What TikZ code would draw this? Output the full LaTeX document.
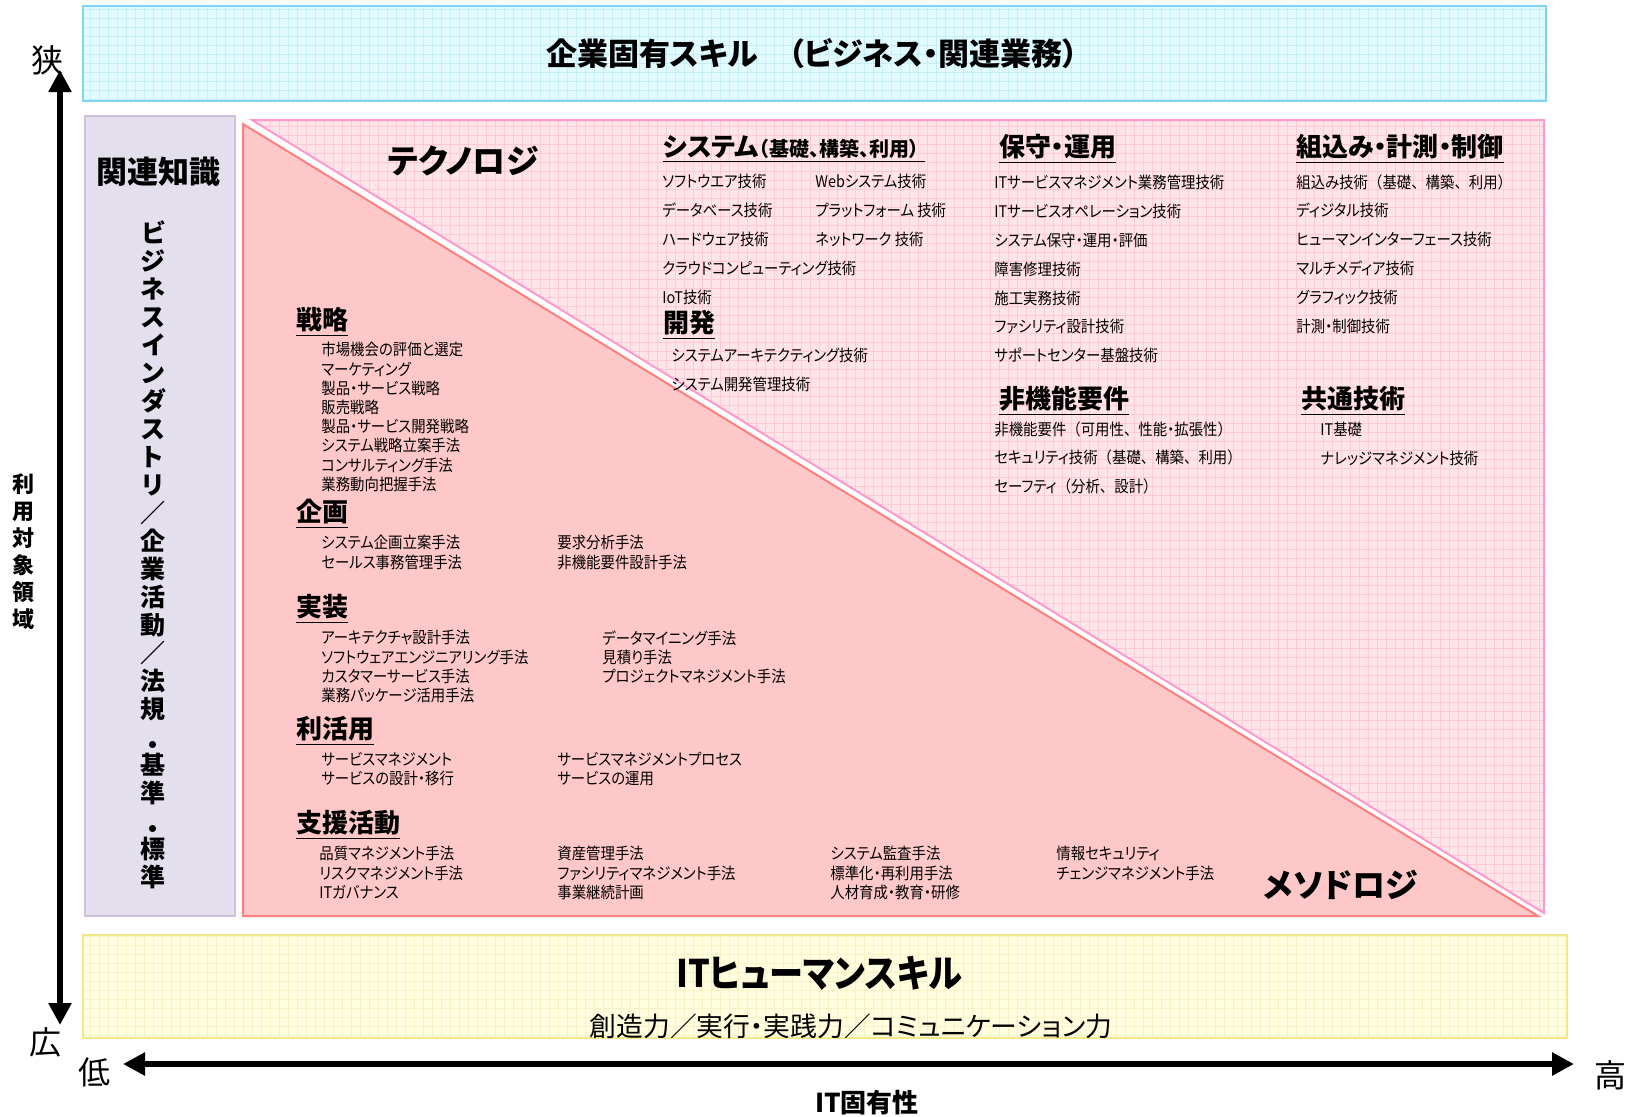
\documentclass[tikz,border=0pt]{standalone}
\usepackage{fontspec}
\setmainfont{Noto Sans CJK JP}[RawFeature=+palt]
\newfontfamily\narrowjp{Noto Sans CJK JP}[RawFeature=+palt,FakeStretch=0.9]
\newfontfamily\narrowfw{Noto Sans CJK JP}[FakeStretch=0.9]
\usepackage{tikz}
\usetikzlibrary{arrows.meta,positioning}
\definecolor{skyfill}{HTML}{E1FBFF}
\definecolor{skyline}{HTML}{7FD2F8}
\definecolor{skygrid}{HTML}{C6EEF6}
\definecolor{lavfill}{HTML}{E4DFEC}
\definecolor{lavline}{HTML}{CCC0DA}
\definecolor{techfill}{HTML}{FFE4E9}
\definecolor{techline}{HTML}{FF99CC}
\definecolor{techgrid}{HTML}{FFCAD3}
\definecolor{methfill}{HTML}{FFC8C8}
\definecolor{methline}{HTML}{FF7F7F}
\definecolor{humfill}{HTML}{FFFFE0}
\definecolor{humline}{HTML}{F5E68C}
\definecolor{humgrid}{HTML}{F6F2C6}
\tikzset{
    %Define standard arrow tip
    >={Triangle[length=11pt,width=11pt]},
    %Define style for item lists
    items/.style={
           anchor=north west,
           inner sep=0pt,
           align=left,
           font=\narrowjp\fontsize{8}{9.6}\selectfont},
    techitems/.style={
           items,
           font=\narrowjp\fontsize{8}{14.4}\selectfont},
    %Define style for underlined headings
    head/.style={
           anchor=west,
           inner sep=0pt,
           font=\bfseries\fontsize{13}{14}\selectfont},
    area/.style={
           inner sep=0pt,
           font=\bfseries\fontsize{16.5}{18}\selectfont},
    %Define style for vertical text
    tate/.style={
           inner sep=0pt,
           align=center,
           font=\bfseries\fontsize{12.5}{14}\selectfont},
    ends/.style={
           inner sep=0pt,
           font=\fontsize{16}{16}\selectfont},
    % Define arrow style
    axisarrow/.style={
           <->,
           line width=3pt}
}

\begin{document}
\begin{tikzpicture}[x=0.5pt,y=-0.5pt]
\useasboundingbox (0,0) rectangle (1632,1116);
% company specific skills
\fill[skyfill] (83,6) rectangle (1546,101);
\draw[skygrid,line width=0.25pt,step=4.5pt] (83,101) grid (1546,6);
\draw[skyline,line width=1pt] (83,6) rectangle (1546,101);
\node[area,font=\bfseries\fontsize{15.5}{18}\selectfont] (Co) at (812,54) {企業固有スキル　（ビジネス・関連業務）};
% related knowledge
\filldraw[fill=lavfill,draw=lavline,line width=1pt] (85,116) rectangle (235,916);
\node[area,font=\bfseries\fontsize{15.5}{18}\selectfont] (Rel) at (158,172) {関連知識};
\node[tate] (Biz) at (153,555) {ビ\\ジ\\ネ\\ス\\イ\\ン\\ダ\\ス\\ト\\リ\\／\\企\\業\\活\\動\\／\\法\\規\\[4pt]・\\[-4pt]基\\準\\[4pt]・\\[-4pt]標\\準};
% technology
\begin{scope}
\clip (252,120) -- (1544,120) -- (1544,913) -- cycle;
\fill[techfill] (252,120) rectangle (1544,913);
\draw[techgrid,line width=0.25pt,step=4.5pt] (252,913) grid (1544,120);
\end{scope}
\draw[techline,line width=1pt] (252,120) -- (1544,120) -- (1544,913) -- cycle;
% methodology
\filldraw[fill=methfill,draw=methline,line width=1pt] (243,124) -- (243,916) -- (1538,916) -- cycle;
% human skills
\fill[humfill] (83,935) rectangle (1567,1038);
\draw[humgrid,line width=0.25pt,step=4.5pt] (83,1038) grid (1567,935);
\draw[humline,line width=1pt] (83,935) rectangle (1567,1038);

\node[area] (T) at (463,161) {テクノロジ};
\node[head] (Sys) at (663,149) {\underline{システム{\fontsize{10}{11}\selectfont（基礎、構築、利用）}\ }};
\node[techitems] (SysA) at (662,174) {ソフトウエア技術\\データベース技術\\ハードウェア技術\\クラウドコンピューティング技術\\IoT技術};
\node[techitems] (SysB) at (815,174) {Webシステム技術\\プラットフォーム 技術\\ネットワーク 技術};
\node[head] (Dev) at (663,325) {\underline{開発}};
\node[techitems] (DevA) at (671,348) {システムアーキテクティング技術\\システム開発管理技術};
\node[head] (Ops) at (999,149) {\underline{保守・運用}};
\node[techitems] (OpsA) at (994,175) {ITサービスマネジメント業務管理技術\\ITサービスオペレーション技術\\システム保守・運用・評価\\障害修理技術\\施工実務技術\\ファシリティ設計技術\\サポートセンター基盤技術};
\node[head] (NF) at (999,401) {\underline{非機能要件}};
\node[techitems] (NFA) at (994,421) {非機能要件{\narrowfw （}可用性{\narrowfw 、}性能・拡張性{\narrowfw ）}\\セキュリティ技術{\narrowfw （}基礎{\narrowfw 、}構築{\narrowfw 、}利用{\narrowfw ）}\\セーフティ{\narrowfw （}分析{\narrowfw 、}設計{\narrowfw ）}};
\node[head] (Emb) at (1296,149) {\underline{組込み・計測・制御}};
\node[techitems] (EmbA) at (1296,174) {組込み技術{\narrowfw （}基礎{\narrowfw 、}構築{\narrowfw 、}利用{\narrowfw ）}\\ディジタル技術\\ヒューマンインターフェース技術\\マルチメディア技術\\グラフィック技術\\計測・制御技術};
\node[head] (Com) at (1301,401) {\underline{共通技術}};
\node[techitems] (ComA) at (1320,422) {IT基礎\\ナレッジマネジメント技術};

\node[area] (M) at (1341,885) {メソドロジ};
\node[head] (Str) at (296,322) {\underline{戦略}};
\node[items] (StrA) at (321,342) {市場機会の評価と選定\\マーケティング\\製品・サービス戦略\\販売戦略\\製品・サービス開発戦略\\システム戦略立案手法\\コンサルティング手法\\業務動向把握手法};
\node[head] (Pl) at (296,514) {\underline{企画}};
\node[items] (PlA) at (321,535) {システム企画立案手法\\セールス事務管理手法};
\node[items] (PlB) at (557,535) {要求分析手法\\非機能要件設計手法};
\node[head] (Imp) at (296,609) {\underline{実装}};
\node[items] (ImpA) at (321,630) {アーキテクチャ設計手法\\ソフトウェアエンジニアリング手法\\カスタマーサービス手法\\業務パッケージ活用手法};
\node[items] (ImpB) at (602,630) {データマイニング手法\\見積り手法\\プロジェクトマネジメント手法};
\node[head] (Use) at (296,731) {\underline{利活用}};
\node[items] (UseA) at (321,752) {サービスマネジメント\\サービスの設計・移行};
\node[items] (UseB) at (557,752) {サービスマネジメントプロセス\\サービスの運用};
\node[head] (Sup) at (296,825) {\underline{支援活動}};
\node[items] (SupA) at (319,846) {品質マネジメント手法\\リスクマネジメント手法\\ITガバナンス};
\node[items] (SupB) at (557,846) {資産管理手法\\ファシリティマネジメント手法\\事業継続計画};
\node[items] (SupC) at (830,846) {システム監査手法\\標準化・再利用手法\\人材育成・教育・研修};
\node[items] (SupD) at (1056,846) {情報セキュリティ\\チェンジマネジメント手法};

\node[area,font=\narrowjp\bfseries\fontsize{19}{20}\selectfont] (H) at (819,973) {ITヒューマンスキル};
\node[inner sep=0pt,font=\fontsize{13.4}{16}\selectfont] (HA) at (851,1026) {創造力／実行・実践力／コミュニケーション力};

% axes
\node[ends] (Nar) at (48,60) {狭};
\node[ends] (Wid) at (45,1042) {広};
\node[ends] (Lo) at (94,1072) {低};
\node[ends] (Hi) at (1610,1075) {高};
\node[tate,font=\bfseries\fontsize{11}{13.5}\selectfont] (Fld) at (23,552) {利\\用\\対\\象\\領\\域};
\node[inner sep=0pt,font=\bfseries\fontsize{13}{14}\selectfont] (Spec) at (867,1103) {IT固有性};
\coordinate (Vt) at (60,70);
\coordinate (Vb) at (60,1025);
\coordinate (Hl) at (123,1064);
\coordinate (Hr) at (1574,1064);
\draw[axisarrow] (Vt) -- (Vb);
\draw[axisarrow] (Hl) -- (Hr);
\end{tikzpicture}
\end{document}
